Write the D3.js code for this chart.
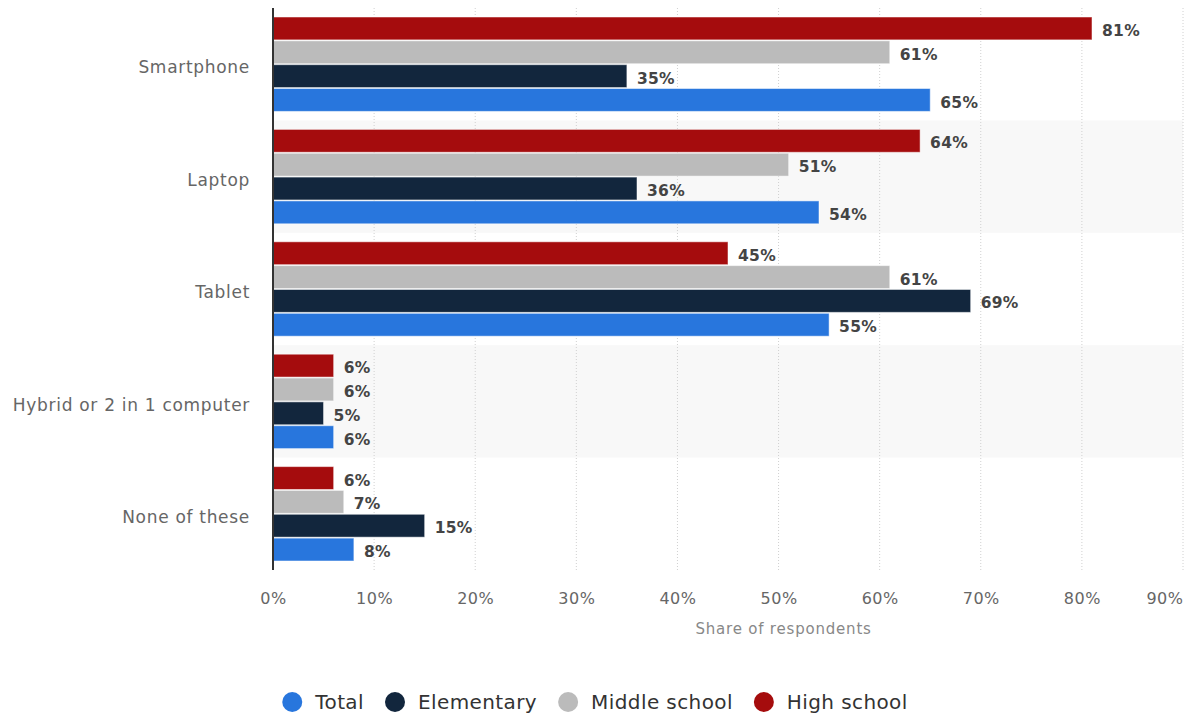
<!DOCTYPE html>
<html>
<head>
<meta charset="utf-8">
<script src="https://cdn.jsdelivr.net/npm/d3@7"></script>
<style>
  body { margin: 0; background: #fff; }
  svg { font-family: "DejaVu Sans", "Open Sans", sans-serif; }
</style>
</head>
<body>
<svg width="1190" height="715"></svg>
<script>
var categories = ["Smartphone", "Laptop", "Tablet", "Hybrid or 2 in 1 computer", "None of these"];
// drawn top to bottom inside each group
var seriesNames = ["High school", "Middle school", "Elementary", "Total"];
var seriesColors = ["#a50c0d", "#bbbbbb", "#12263d", "#2876dd"];
var highSchool = [81, 64, 45, 6, 6];
var middleSchool = [61, 51, 61, 6, 7];
var elementary = [35, 36, 69, 5, 15];
var total = [65, 54, 55, 6, 8];
var legendNames = ["Total", "Elementary", "Middle school", "High school"];
var legendColors = ["#2876dd", "#12263d", "#bbbbbb", "#a50c0d"];
var xTicks = [0, 10, 20, 30, 40, 50, 60, 70, 80, 90];

var seriesValues = [highSchool, middleSchool, elementary, total];

var svg = d3.select("svg"),
  margin = { top: 8, left: 273, right: 7, bottom: 145 },
  width = +svg.attr("width") - margin.left - margin.right,
  height = +svg.attr("height") - margin.top - margin.bottom;

var x = d3.scaleLinear().domain([0, 90]).range([0, width]);
var y = d3.scaleBand().domain(categories).range([0, height]);
var y1 = d3.scaleBand().domain(seriesNames).range([9, y.bandwidth() - 9]).paddingInner(0.04);

var g = svg.append("g").attr("transform", "translate(" + margin.left + "," + margin.top + ")");

// alternating band backgrounds
g.selectAll("rect.band")
  .data(categories.filter(function (d, i) { return i % 2 === 1; }))
  .enter()
  .append("rect")
  .attr("class", "band")
  .attr("x", 0)
  .attr("y", function (d) { return y(d); })
  .attr("width", width)
  .attr("height", y.bandwidth())
  .attr("fill", "#f8f8f8");

// grid
g.selectAll("line.grid")
  .data(xTicks.slice(1))
  .enter()
  .append("line")
  .attr("x1", function (d) { return x(d); })
  .attr("x2", function (d) { return x(d); })
  .attr("y1", 0)
  .attr("y2", height)
  .attr("stroke", "#d0d0d0")
  .attr("stroke-dasharray", "1,2");

var groups = g.selectAll("g.cat")
  .data(categories)
  .enter()
  .append("g")
  .attr("class", "cat")
  .attr("transform", function (d) { return "translate(0," + y(d) + ")"; });

groups.each(function (cat, ci) {
  var sel = d3.select(this);
  var rows = seriesNames.map(function (s, si) {
    return { name: s, value: seriesValues[si][ci], color: seriesColors[si] };
  });
  sel.selectAll("rect")
    .data(rows)
    .enter()
    .append("rect")
    .attr("x", 0)
    .attr("y", function (d) { return y1(d.name); })
    .attr("width", function (d) { return x(d.value); })
    .attr("height", y1.bandwidth())
    .attr("fill", function (d) { return d.color; })
    .attr("stroke", "rgba(255,255,255,0.5)")
    .attr("stroke-width", 1);
  sel.selectAll("text")
    .data(rows)
    .enter()
    .append("text")
    .attr("x", function (d) { return x(d.value) + 10; })
    .attr("y", function (d) { return y1(d.name) + y1.bandwidth() / 2 + 2; })
    .attr("dy", "0.36em")
    .attr("font-size", 15.5)
    .attr("font-weight", "bold")
    .attr("letter-spacing", 0.3)
    .attr("fill", "#444")
    .text(function (d) { return d.value + "%"; });
});

// category labels
g.selectAll("text.cat")
  .data(categories)
  .enter()
  .append("text")
  .attr("class", "cat")
  .attr("x", -23)
  .attr("y", function (d) { return y(d) + y.bandwidth() / 2 + 3; })
  .attr("dy", "0.36em")
  .attr("text-anchor", "end")
  .attr("font-size", 17)
  .attr("letter-spacing", 0.7)
  .attr("fill", "#666")
  .text(function (d) { return d; });

// y axis line
g.append("line")
  .attr("x1", 0).attr("x2", 0)
  .attr("y1", 0).attr("y2", height)
  .attr("stroke", "#333")
  .attr("stroke-width", 2);

// x axis
var xAxis = g.append("g")
  .attr("transform", "translate(0," + height + ")")
  .call(d3.axisBottom(x).tickValues(xTicks).tickSize(0).tickPadding(23)
    .tickFormat(function (d) { return d + "%"; }));
xAxis.select(".domain").remove();
xAxis.selectAll("text")
  .attr("font-family", "'DejaVu Sans', sans-serif")
  .attr("font-size", 16)
  .attr("letter-spacing", 0.5)
  .attr("fill", "#666")
  .attr("text-anchor", function (d, i) { return i === xTicks.length - 1 ? "end" : "middle"; });

g.append("text")
  .attr("x", x(50) + 5)
  .attr("y", height + 59)
  .attr("dy", "0.36em")
  .attr("text-anchor", "middle")
  .attr("font-size", 15)
  .attr("letter-spacing", 0.8)
  .attr("fill", "#888")
  .text("Share of respondents");

// legend
var legend = svg.append("g").attr("transform", "translate(0,702)");
var cursor = 0;
legendNames.forEach(function (n, i) {
  var item = legend.append("g");
  item.append("circle")
    .attr("cx", 0)
    .attr("cy", 0)
    .attr("r", 10)
    .attr("fill", legendColors[i]);
  var t = item.append("text")
    .attr("x", 23)
    .attr("y", 0)
    .attr("dy", "0.36em")
    .attr("font-size", 20)
    .attr("letter-spacing", 0.4)
    .attr("fill", "#333")
    .text(n);
  var w = t.node().getComputedTextLength();
  item.attr("transform", "translate(" + cursor + ",0)");
  cursor += 23 + w + 31;
});
var legendWidth = cursor - 31 + 10;
legend.attr("transform", "translate(" + (597 - legendWidth / 2 + 8) + ",702)");
</script>
</body>
</html>
